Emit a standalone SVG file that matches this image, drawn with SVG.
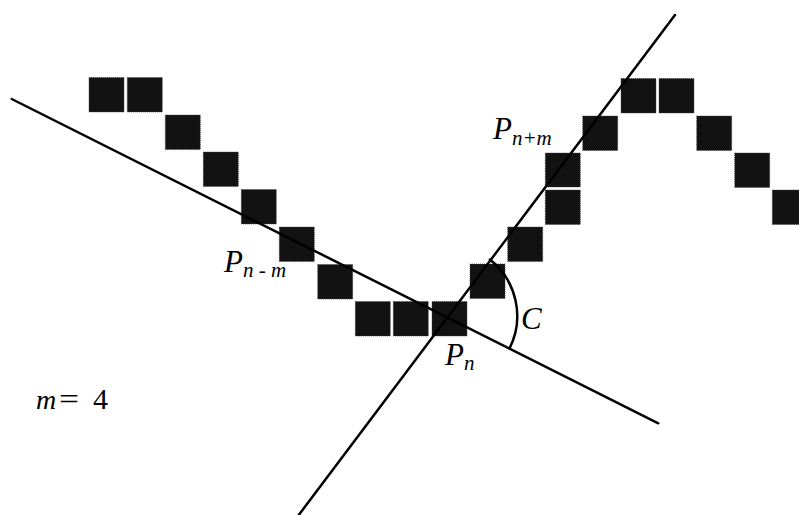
<svg xmlns="http://www.w3.org/2000/svg" width="799" height="515" viewBox="0 0 799 515">
<style>
.sq{fill:#121212;stroke:#444;stroke-width:0.8;stroke-dasharray:1 1}
.ln{stroke:#000;stroke-width:2.5;fill:none;stroke-linecap:round}
.t{font-family:"Liberation Serif","Times New Roman",serif;font-style:italic;fill:#000}
.u{font-family:"Liberation Serif","Times New Roman",serif;fill:#000}
</style>
<rect width="799" height="515" fill="#fff"/>
<g id="pixels">
<rect class="sq" x="89" y="77.5" width="35" height="34.5"/>
<rect class="sq" x="127.3" y="77.5" width="35" height="34.5"/>
<rect class="sq" x="165.3" y="115" width="35" height="34.5"/>
<rect class="sq" x="203.3" y="152" width="35" height="34.5"/>
<rect class="sq" x="241.3" y="189.5" width="35" height="34.5"/>
<rect class="sq" x="279.3" y="227" width="35" height="34.5"/>
<rect class="sq" x="317.7" y="264.5" width="35" height="34.5"/>
<rect class="sq" x="355.3" y="301.5" width="35" height="34.5"/>
<rect class="sq" x="393.3" y="301.5" width="35" height="34.5"/>
<rect class="sq" x="432" y="301.5" width="35" height="34.5"/>
<rect class="sq" x="470" y="264" width="35" height="34.5"/>
<rect class="sq" x="507.7" y="227" width="35" height="34.5"/>
<rect class="sq" x="545.3" y="190" width="35" height="34.5"/>
<rect class="sq" x="545.3" y="153" width="35" height="34"/>
<rect class="sq" x="582.7" y="116" width="35" height="34.5"/>
<rect class="sq" x="621" y="78.5" width="35" height="34.5"/>
<rect class="sq" x="659" y="78.5" width="35" height="34.5"/>
<rect class="sq" x="696.7" y="116" width="35" height="34.5"/>
<rect class="sq" x="734.7" y="153" width="35" height="34.5"/>
<rect class="sq" x="772.3" y="190" width="35" height="34.5"/>
</g>
<g id="connectors">
<line class="ln" x1="11.7" y1="99" x2="658.3" y2="423.3"/>
<line class="ln" x1="298" y1="516" x2="675" y2="15"/>
<path class="ln" d="M489.9,259.6 A72,72 0 0 1 509.5,348.5"/>
</g>
<g id="labels">
<text class="t" x="224" y="272" font-size="31">P<tspan font-size="21" dy="5" dx="0">n - m</tspan></text>
<text class="t" x="493" y="139" font-size="31">P<tspan font-size="21" dy="6" dx="0">n+m</tspan></text>
<text class="t" x="445" y="365" font-size="31">P<tspan font-size="21" dy="5" dx="0">n</tspan></text>
<text class="t" x="521" y="329" font-size="31">C</text>
<text class="t" x="36" y="409" font-size="28">m</text>
<text class="u" x="59" y="409" font-size="30" textLength="20" lengthAdjust="spacingAndGlyphs">=</text>
<text class="u" x="93" y="409" font-size="30">4</text>
</g>
</svg>
